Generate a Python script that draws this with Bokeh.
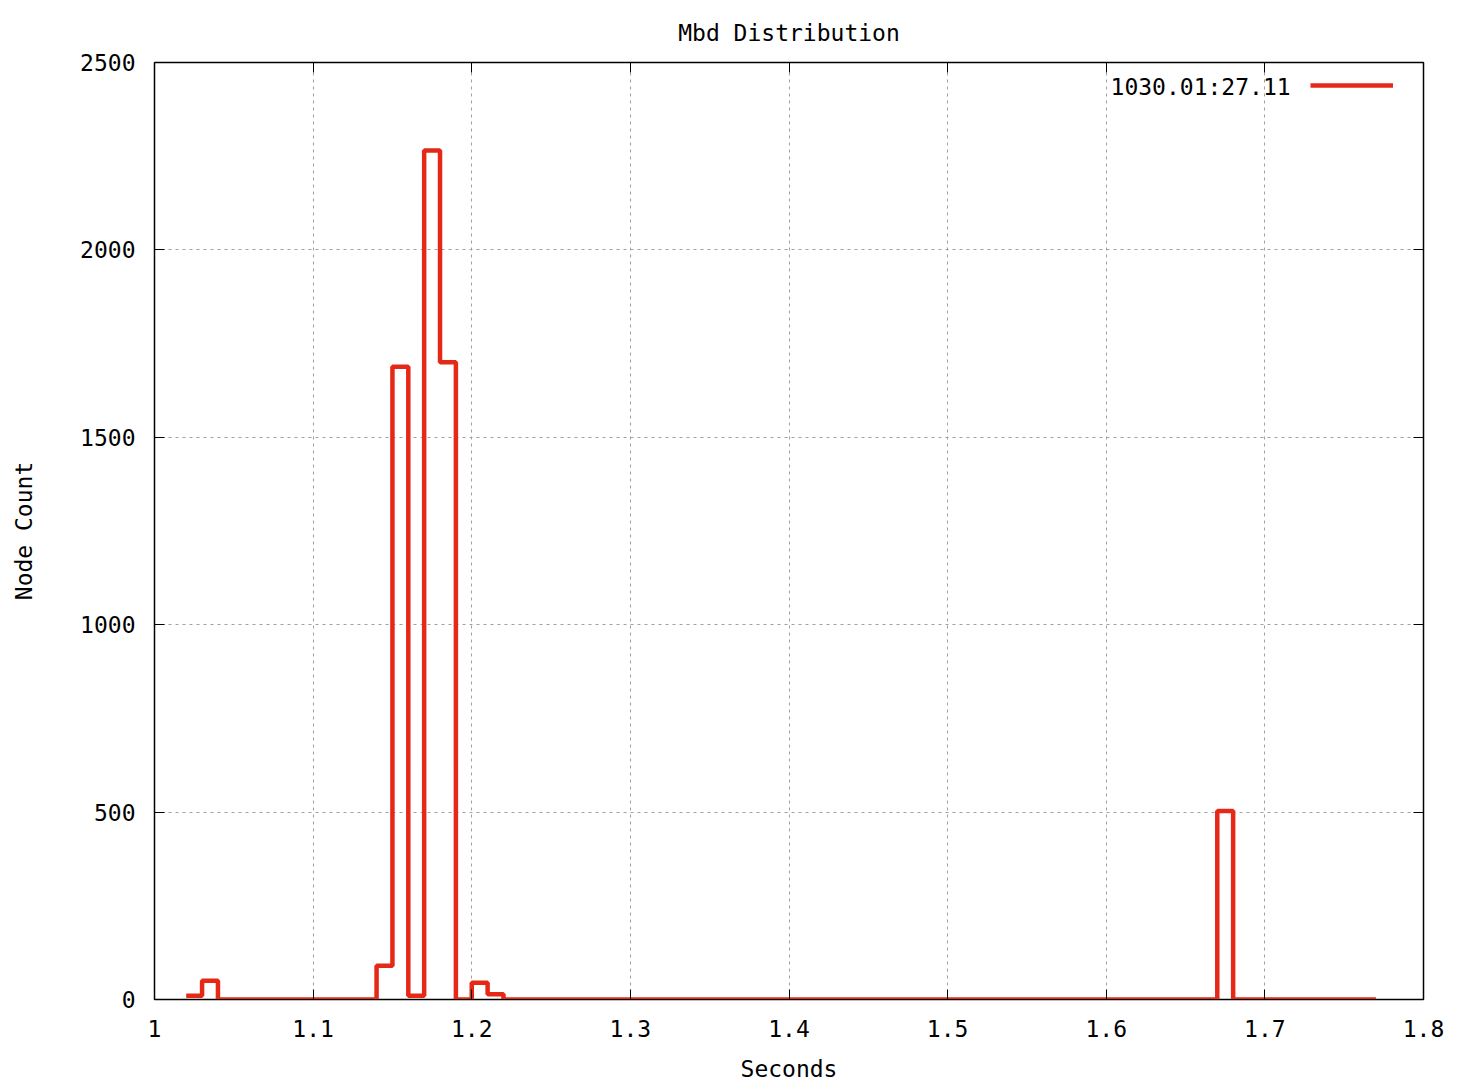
from bokeh.plotting import figure
from bokeh.models import (LinearAxis, FixedTicker, Range1d, Legend, LegendItem, Label)
from bokeh.embed import file_html
from bokeh.resources import INLINE

# ---- data ----
bin_left = [round(1.02 + 0.01 * i, 2) for i in range(76)]
counts = (
    [10, 50]
    + [0] * 10
    + [90, 1688, 10, 2265, 1700, 0, 45, 14]
    + [0] * 45
    + [503]
    + [0] * 10
)
series_name = "1030.01:27.11"
chart_title = "Mbd Distribution"
x_ticks = [1.0, 1.1, 1.2, 1.3, 1.4, 1.5, 1.6, 1.7, 1.8]
x_tick_labels = ["1", "1.1", "1.2", "1.3", "1.4", "1.5", "1.6", "1.7", "1.8"]
y_ticks = [0, 500, 1000, 1500, 2000, 2500]
y_tick_labels = ["0", "500", "1000", "1500", "2000", "2500"]

FONT = "DejaVu Sans Mono"
FS = "23px"
RED = "#e62817"

p = figure(width=1460, height=1084, output_backend="svg", toolbar_location=None,
           x_range=Range1d(1.0, 1.8), y_range=Range1d(0, 2500),
           title=chart_title, x_axis_label="Seconds", y_axis_label="Node Count")
p.min_border_left = 154
p.min_border_right = 37
p.min_border_top = 62
p.min_border_bottom = 84

p.title.align = "center"
p.title.text_font = FONT
p.title.text_font_size = FS
p.title.text_font_style = "normal"
p.title.text_color = "black"
p.title.standoff = 34

p.outline_line_color = "black"
p.outline_line_width = 1.5
p.background_fill_color = "white"
p.border_fill_color = "white"

xt = FixedTicker(ticks=x_ticks)
yt = FixedTicker(ticks=y_ticks)

for ax in p.xaxis:
    ax.ticker = xt
    ax.major_label_overrides = {t: l for t, l in zip(x_ticks, x_tick_labels)}
    ax.major_label_standoff = 20
    ax.axis_label_standoff = 16
for ax in p.yaxis:
    ax.ticker = yt
    ax.major_label_overrides = {t: l for t, l in zip(y_ticks, y_tick_labels)}
    ax.major_label_standoff = 19
    ax.axis_label_standoff = 40

for ax in list(p.xaxis) + list(p.yaxis):
    ax.major_tick_in = 10
    ax.major_tick_out = 0
    ax.minor_tick_line_color = None
    ax.major_tick_line_color = "black"
    ax.axis_line_color = "black"
    ax.major_label_text_font = FONT
    ax.major_label_text_font_size = FS
    ax.major_label_text_color = "black"
    ax.axis_label_text_font = FONT
    ax.axis_label_text_font_size = FS
    ax.axis_label_text_font_style = "normal"
    ax.axis_label_text_color = "black"

# mirrored ticks (no labels)
top = LinearAxis(ticker=xt, major_tick_in=10, major_tick_out=0,
                 minor_tick_line_color=None, major_label_text_color=None,
                 major_label_text_font_size="1px",
                 major_label_standoff=0, axis_line_color="black")
right = LinearAxis(ticker=yt, major_tick_in=10, major_tick_out=0,
                   minor_tick_line_color=None, major_label_text_color=None,
                   major_label_text_font_size="1px",
                   major_label_standoff=0, axis_line_color="black")
p.add_layout(top, "above")
p.add_layout(right, "right")

p.xgrid.ticker = xt
p.ygrid.ticker = yt
p.grid.grid_line_color = "#a0a0a0"
p.grid.grid_line_dash = "3 4"
p.grid.grid_line_width = 1

r = p.step(bin_left, counts, mode="after", line_color=RED, line_width=4.5)

legend = Legend(items=[LegendItem(label=" ", renderers=[r])],
                location=(1156, 904), padding=0, margin=0, glyph_width=83,
                glyph_height=20, label_standoff=0, border_line_color=None,
                background_fill_alpha=0, label_text_font_size="10px")
p.add_layout(legend, "center")

p.add_layout(Label(x=1.7162, y=2435, text=series_name, text_align="right",
                   text_baseline="middle", text_font=FONT, text_font_size=FS,
                   text_color="black"))

open("out.html", "w").write(file_html(p, INLINE))
